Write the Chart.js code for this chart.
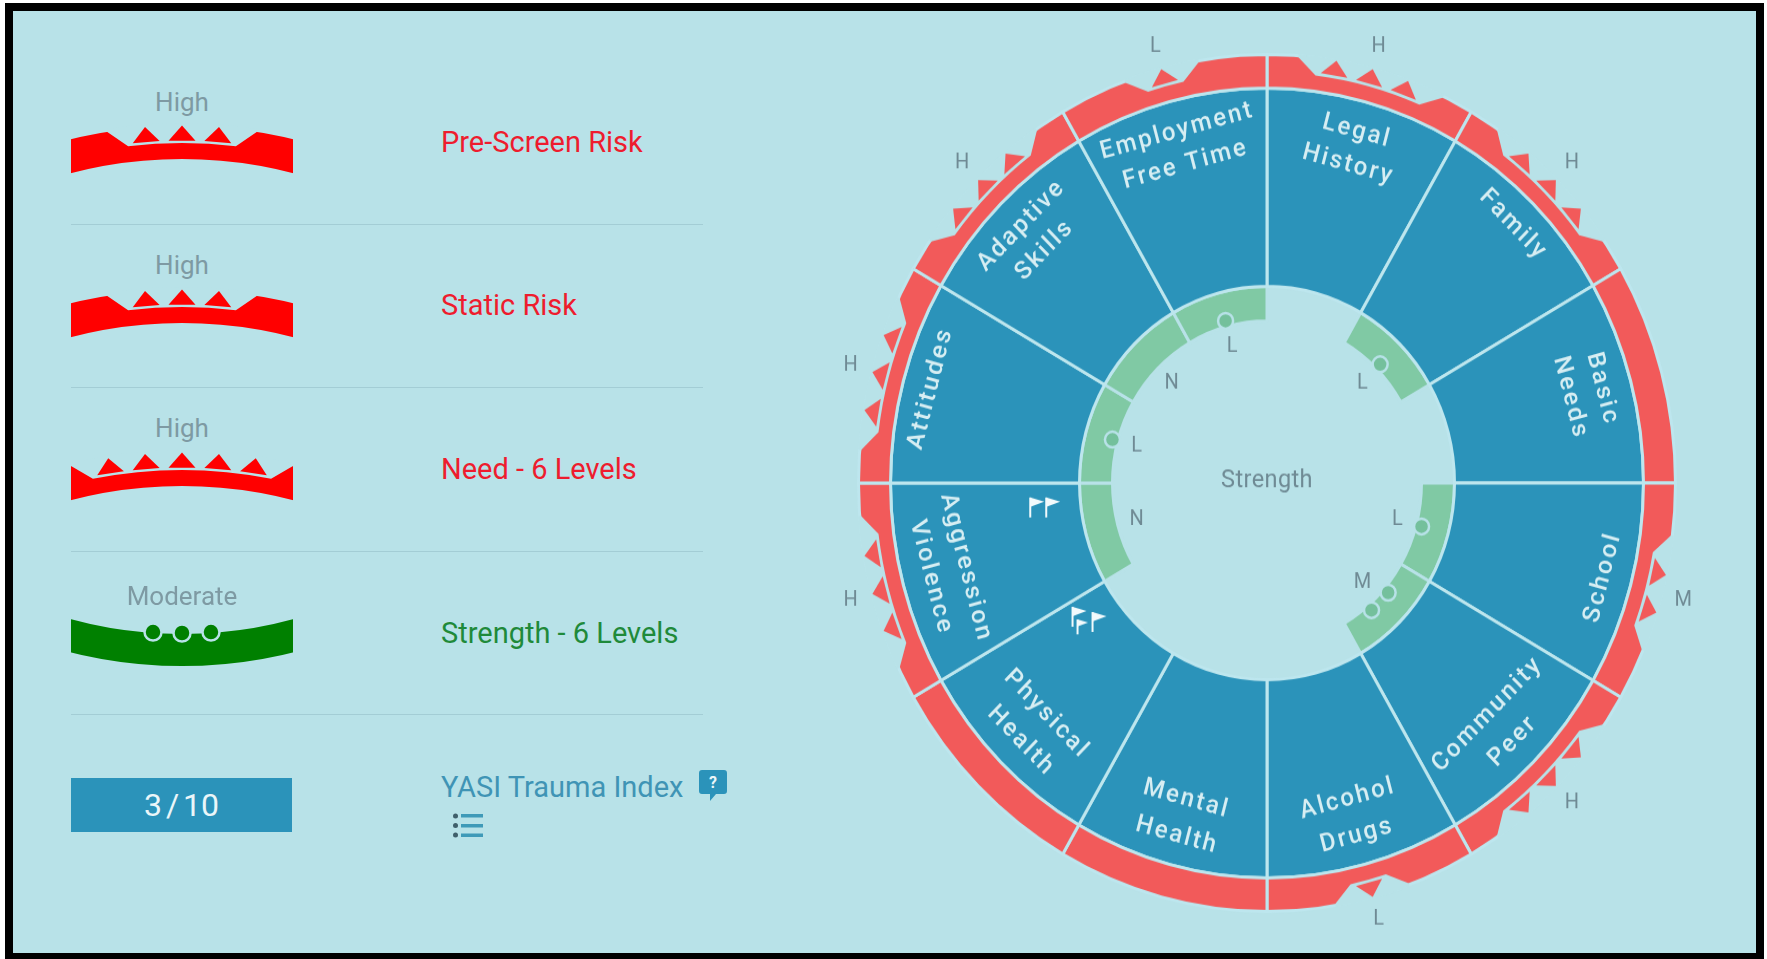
<!DOCTYPE html>
<html>
<head>
<meta charset="utf-8">
<title>YASI wheel</title>
<script src="https://cdn.jsdelivr.net/npm/chart.js@4.4.3/dist/chart.umd.min.js"></script>
<style>
  html, body { margin: 0; padding: 0; width: 1767px; height: 959px; background: #fff; overflow: hidden; }
  #frame { position: absolute; left: 5px; top: 3px; width: 1759px; height: 956px; background: #000; }
  #page { position: absolute; left: 13px; top: 11px; width: 1743px; height: 942px; background: #b8e2e8; overflow: hidden; }
  .abs { position: absolute; font-family: Roboto, sans-serif; white-space: nowrap; line-height: 1; }
  .gauge { position: absolute; left: 71px; width: 222px; overflow: hidden; }
  .gauge canvas { position: absolute; }
  .rule { position: absolute; left: 71px; width: 632px; height: 1px; background: #a3cdd5; }
  #wheel { position: absolute; transform: scaleY(1.049); transform-origin: 50% 50%; }
</style>
</head>
<body>
<div id="frame"></div>
<div id="page"></div>
<script>
// wheel data, clockwise from 12 o'clock
const domainLabels = [['Legal', 'History'], ['Family'], ['Basic', 'Needs'], ['School'], ['Community', 'Peer'], ['Alcohol', 'Drugs'],
    ['Mental', 'Health'], ['Physical', 'Health'], ['Aggression', 'Violence'], ['Attitudes'], ['Adaptive', 'Skills'], ['Employment', 'Free Time']];
const sectorShares = [1, 1, 1, 1, 1, 1, 1, 1, 1, 1, 1, 1];
const riskLevels = ['H', 'H', '', 'M', 'H', 'L', '', '', 'H', 'H', 'H', 'L'];
const strengthLevels = ['', 'L', '', 'L', 'M', '', '', '', 'N', 'L', 'N', 'L'];
const flagCounts = [0, 0, 0, 0, 0, 0, 0, 3, 2, 0, 0, 0];
const riskMarks = { L: 1, M: 2, H: 3 };
const strengthMarks = { N: 0, L: 1, M: 2 };

// left column
const gaugeRows = ['Pre-Screen Risk', 'Static Risk', 'Need - 6 Levels', 'Strength - 6 Levels'];
const gaugeLevels = ['High', 'High', 'High', 'Moderate'];
const gaugeMarkCounts = [3, 3, 5, 3];
const traumaScore = '3 / 10';
const traumaLabel = 'YASI Trauma Index';

const BG = '#b8e2e8';
const LINE = '#bde6ee';
const RIM = '#f25a5a';
const BLUE = '#2b93ba';
const MINT = '#80c9a4';
const GREY = '#6f8a94';
const DEG = Math.PI / 180;

const page = document.getElementById('page');
// page div starts at 13,11 so positions below are written in picture coords
function place(el, x, y) {
    el.style.left = (x - 13) + 'px';
    el.style.top = (y - 11) + 'px';
    page.appendChild(el);
    return el;
}

function polar(arc, r, angle) {
    return [arc.x + r * Math.cos(angle), arc.y + r * Math.sin(angle)];
}

// cut the notch out of a rim arc and stand the triangles in it
function drawNotch(ctx, arc, mid, count, o) {
    const R = arc.outerRadius - o.inset;
    const topHalf = (38 + 18.5 * (count - 1)) / R;
    const baseHalf = (19 + 18.5 * (count - 1)) / R;
    const floor = R - o.floorDepth;
    ctx.fillStyle = BG;
    ctx.beginPath();
    ctx.arc(arc.x, arc.y, floor, mid - baseHalf, mid + baseHalf);
    ctx.lineTo(...polar(arc, R, mid + topHalf));
    ctx.lineTo(...polar(arc, R + 3, mid + topHalf));
    ctx.arc(arc.x, arc.y, R + 3, mid + topHalf, mid - topHalf, true);
    ctx.lineTo(...polar(arc, R, mid - topHalf));
    ctx.closePath();
    ctx.fill();

    ctx.fillStyle = o.color;
    for (let i = 0; i < count; i++) {
        const a = mid + (i - (count - 1) / 2) * 37 / R;
        const baseR = R - o.baseDepth;
        const side = o.triHalf / baseR;
        ctx.beginPath();
        ctx.moveTo(...polar(arc, R + o.apexOut, a));
        ctx.lineTo(...polar(arc, baseR, a - side));
        ctx.lineTo(...polar(arc, baseR, a + side));
        ctx.closePath();
        ctx.fill();
    }
}

function drawDots(ctx, arc, mid, count, o) {
    for (let i = 0; i < count; i++) {
        const a = mid + (i - (count - 1) / 2) * o.spacing / o.radius;
        ctx.beginPath();
        ctx.arc(...polar(arc, o.radius, a), o.size, 0, Math.PI * 2);
        ctx.fillStyle = o.color;
        ctx.fill();
        ctx.lineWidth = 2.5;
        ctx.strokeStyle = o.stroke;
        ctx.stroke();
    }
}

function drawFlag(ctx, x, y, small) {
    const k = small ? 0.75 : 1;
    ctx.strokeStyle = '#f2fafc';
    ctx.fillStyle = '#f2fafc';
    ctx.lineWidth = 2;
    ctx.beginPath();
    ctx.moveTo(x, y);
    ctx.lineTo(x, y + 19 * k);
    ctx.stroke();
    ctx.beginPath();
    ctx.moveTo(x, y);
    ctx.lineTo(x + 14 * k, y + 4 * k);
    ctx.lineTo(x, y + 9 * k);
    ctx.closePath();
    ctx.fill();
}

const flagLayouts = {
    2: [[-10, -10], [6, -10]],
    3: [[-10, -16], [-5, -4], [10, -11]]
};

const wheelMarks = {
    id: 'wheelMarks',
    afterDatasetsDraw(chart) {
        const ctx = chart.ctx;
        const rim = chart.getDatasetMeta(0).data;
        const blue = chart.getDatasetMeta(1).data;
        const green = chart.getDatasetMeta(2).data;
        ctx.save();
        rim.forEach((arc, i) => {
            const mid = (arc.startAngle + arc.endAngle) / 2;
            const deg = (mid / DEG + 90 + 360) % 360;
            const level = riskLevels[i];
            ctx.textAlign = 'center';
            ctx.textBaseline = 'middle';
            if (level) {
                drawNotch(ctx, arc, mid, riskMarks[level], { inset: 1.5, floorDepth: 15.5, baseDepth: 12.5, apexOut: 1.5, triHalf: 13.5, color: RIM });
                ctx.fillStyle = GREY;
                ctx.font = '20px Roboto, sans-serif';
                ctx.fillText(level, ...polar(arc, 431, mid));
            }

            // sector names: outer halves read with their top outward, the bottom half inward
            const lines = domainLabels[i];
            const bottom = deg > 90 && deg < 270;
            ctx.font = '500 24px Roboto, sans-serif';
            ctx.letterSpacing = '2.4px';
            ctx.fillStyle = '#d7eef3';
            let radii = [348];
            if (lines.length === 2) radii = bottom ? [312, 348] : [347, 314];
            lines.forEach((txt, k) => {
                const p = polar(arc, radii[k], mid);
                ctx.save();
                ctx.translate(p[0], p[1]);
                ctx.rotate((bottom ? deg - 180 : deg) * DEG);
                ctx.fillText(txt, 0, 0);
                ctx.restore();
            });
            ctx.letterSpacing = '0px';

            if (flagCounts[i]) {
                const p = polar(blue[i], 228, mid + 9 * DEG);
                flagLayouts[flagCounts[i]].forEach((f, k) => {
                    drawFlag(ctx, p[0] + f[0], p[1] + f[1], flagCounts[i] === 3 && k === 1);
                });
            }

            const strength = strengthLevels[i];
            if (strength) {
                drawDots(ctx, green[i], mid, strengthMarks[strength], { radius: 160, spacing: 23.5, size: 7.5, color: '#74c09c', stroke: BG });
                ctx.fillStyle = GREY;
                ctx.font = '20px Roboto, sans-serif';
                ctx.fillText(strength, ...polar(arc, 135, mid));
            }
        });
        ctx.fillStyle = GREY;
        ctx.font = '23.5px Roboto, sans-serif';
        ctx.letterSpacing = '0.4px';
        ctx.fillText('Strength', rim[0].x, rim[0].y - 2);
        ctx.restore();
    }
};

const wheelCanvas = document.createElement('canvas');
wheelCanvas.id = 'wheel';
wheelCanvas.width = 1000;
wheelCanvas.height = 1000;
place(wheelCanvas, 766.5, -17.5);
new Chart(wheelCanvas, {
    type: 'doughnut',
    data: {
        labels: domainLabels.map(l => l.join(' ')),
        datasets: [
            { data: sectorShares, weight: 32, backgroundColor: RIM, borderColor: LINE },
            { data: sectorShares, weight: 189, backgroundColor: BLUE, borderColor: LINE },
            {
                data: sectorShares, weight: 33,
                backgroundColor: strengthLevels.map(s => s ? MINT : 'transparent'),
                borderColor: strengthLevels.map(s => s ? BG : 'transparent')
            }
        ]
    },
    options: {
        responsive: false,
        animation: false,
        events: [],
        radius: 408.5,
        cutout: (154.5 / 408.5 * 100) + '%',
        borderWidth: 3,
        plugins: { legend: { display: false }, tooltip: { enabled: false } }
    },
    plugins: [wheelMarks]
});

// small key gauges on the left, same ring idea with a big radius and the rest clipped away
function gauge(top, height, centerY, rotation, radius, inner, color, drawMarks) {
    const box = document.createElement('div');
    box.className = 'gauge';
    box.style.height = height + 'px';
    place(box, 71, top);
    box.style.left = (71 - 13) + 'px';
    const canvas = document.createElement('canvas');
    canvas.width = 960;
    canvas.height = 960;
    canvas.style.left = (182 - 71 - 480) + 'px';
    canvas.style.top = (centerY - top - 480) + 'px';
    box.appendChild(canvas);
    new Chart(canvas, {
        type: 'doughnut',
        data: {
            labels: ['key', 'rest'],
            datasets: [{ data: [40, 320], backgroundColor: [color, 'transparent'], borderWidth: 0 }]
        },
        options: {
            responsive: false,
            animation: false,
            events: [],
            rotation: rotation,
            radius: radius,
            cutout: (inner / radius * 100) + '%',
            plugins: { legend: { display: false }, tooltip: { enabled: false } }
        },
        plugins: [{
            id: 'gaugeMarks',
            afterDatasetsDraw(chart) {
                const arc = chart.getDatasetMeta(0).data[0];
                chart.ctx.save();
                drawMarks(chart.ctx, arc, (arc.startAngle + arc.endAngle) / 2);
                chart.ctx.restore();
            }
        }]
    });
}

gaugeRows.forEach((name, i) => {
    const isStrength = gaugeLevels[i] === 'Moderate';
    const offset = 163.3 * i;
    if (isStrength) {
        gauge(600, 80, 207.7 + offset - 489.9, 160, 458, 426, '#008000', (ctx, arc, mid) => {
            drawDots(ctx, arc, mid, gaugeMarkCounts[i], { radius: 425, spacing: 29, size: 8.5, color: '#008000', stroke: BG });
        });
    } else {
        gauge(110 + offset, 70, 602.3 + offset, -20, 476, 443, '#ff0000', (ctx, arc, mid) => {
            drawNotch(ctx, arc, mid, gaugeMarkCounts[i], { inset: 0, floorDepth: 17, baseDepth: 14.5, apexOut: 0.5, triHalf: 13.5, color: '#ff0000' });
        });
    }

    const level = document.createElement('div');
    level.className = 'abs';
    level.textContent = gaugeLevels[i];
    level.style.cssText += 'font-size:26px;color:#7e9aa3;width:222px;text-align:center;';
    place(level, 71, (isStrength ? 596 : 101.7 + offset) - 13);

    const row = document.createElement('div');
    row.className = 'abs';
    row.textContent = name;
    row.style.cssText += 'font-size:29px;color:' + (isStrength ? '#1f8a3a' : '#ee1c2e') + ';';
    place(row, 441, [141.7, 305, 469, 633][i] - 14);

    if (i < 4) {
        const rule = document.createElement('div');
        rule.className = 'rule';
        place(rule, 71, [224, 387, 551, 714][i]);
    }
});

const scoreBox = document.createElement('div');
scoreBox.className = 'abs';
scoreBox.textContent = traumaScore;
scoreBox.style.cssText += 'width:221px;height:54px;line-height:54px;background:' + BLUE + ';color:#eaf6f9;font-size:32px;word-spacing:-4px;text-align:center;';
place(scoreBox, 71, 778);

const traumaText = document.createElement('div');
traumaText.className = 'abs';
traumaText.textContent = traumaLabel;
traumaText.style.cssText += 'font-size:29px;color:#3f94b5;';
place(traumaText, 441, 773);

const helpIcon = document.createElement('div');
helpIcon.className = 'abs';
helpIcon.innerHTML = '<svg width="28" height="31" viewBox="0 0 28 31"><path d="M3 0H25Q28 0 28 3V21Q28 24 25 24H17L11 31V24H3Q0 24 0 21V3Q0 0 3 0Z" fill="' + BLUE + '"/><text x="14" y="18" text-anchor="middle" font-family="Roboto" font-weight="700" font-size="16" fill="#eaf6f9">?</text></svg>';
place(helpIcon, 699, 770);

const listIcon = document.createElement('div');
listIcon.className = 'abs';
listIcon.innerHTML = '<svg width="30" height="25" viewBox="0 0 30 25"><circle cx="2.5" cy="3" r="2.5" fill="#3f5f6b"/><circle cx="2.5" cy="12.5" r="2.5" fill="#3f5f6b"/><circle cx="2.5" cy="22" r="2.5" fill="#3f5f6b"/><rect x="8" y="1" width="22" height="3.5" fill="#3f9ab8"/><rect x="8" y="11" width="22" height="3.5" fill="#3f9ab8"/><rect x="8" y="20.5" width="22" height="3.5" fill="#3f9ab8"/></svg>';
place(listIcon, 453, 813);
</script>
</body>
</html>
